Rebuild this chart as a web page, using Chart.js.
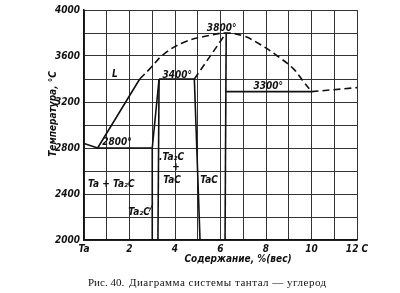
<!DOCTYPE html>
<html>
<head>
<meta charset="utf-8">
<script src="https://cdn.jsdelivr.net/npm/chart.js@4/dist/chart.umd.min.js"></script>
<style>
  html, body { margin: 0; padding: 0; background: #fff; }
  #wrap { width: 400px; height: 293px; }
</style>
</head>
<body>
<div id="wrap"><canvas id="chart" width="400" height="293"></canvas></div>
<script>
// tick labels
const xTickLabels = { 0: 'Ta', 2: '2', 4: '4', 6: '6', 8: '8', 10: '10', 12: '12 C' };
const yTickLabels = [2000, 2400, 2800, 3200, 3600, 4000];

// phase lines, [carbon %, temperature]
const liquidusLeft = [[0, 2840], [0.6, 2800], [2.45, 3400]];
const liquidusDashed = [[2.45, 3400], [2.9, 3490], [3.5, 3615], [4.4, 3720], [5.5, 3778], [6.25, 3800], [7.0, 3775], [7.75, 3700], [8.5, 3600], [9.2, 3490], [9.6, 3390], [10, 3290]];
const tacLiquidus = [[4.85, 3400], [6.25, 3800]];
const rightDashed = [[10, 3290], [12, 3325]];
const eutectic2800 = [[0.6, 2800], [3.0, 2800]];
const peritectic3400 = [[3.3, 3400], [4.85, 3400]];
const eutectic3300 = [[6.25, 3290], [10, 3290]];
const ta2cLeft = [[3.0, 2000], [3.0, 2800], [3.3, 3400]];
const ta2cRight = [[3.3, 3400], [3.25, 2000]];
const tacLeft = [[4.85, 3400], [5.1, 2000]];
const tacRight = [[6.25, 3800], [6.2, 2000]];
const ta2cPointer = [[2.86, 2247], [3.03, 2315]];

// text in the field: [text, x, y]
const fieldLabels = [
  ['L', 1.36, 3440],
  ['2800°', 1.45, 2845],
  ['3400°', 4.1, 3432],
  ['3800°', 6.05, 3840],
  ['3300°', 8.1, 3338],
  ['Ta + Ta₂C', 1.2, 2485],
  ['.Ta₂C', 3.85, 2720],
  ['+', 4.05, 2632],
  ['TaC', 3.87, 2522],
  ['TaC', 5.5, 2522],
  ['Ta₂C', 2.42, 2238]
];

const yTitle = 'Температура, °С';
const xTitle = 'Содержание, %(вес)';
const caption = 'Рис. 40.';
const captionRest = 'Диаграмма системы тантал — углерод';

const labelFont = "italic bold 10px 'Liberation Sans Narrow', 'DejaVu Sans Condensed', sans-serif";

function pts(arr) {
  return arr.map((p) => ({ x: p[0], y: p[1] }));
}

function line(arr, dashed, tension) {
  return {
    data: pts(arr),
    showLine: true,
    borderColor: '#111',
    borderWidth: 1.6,
    borderDash: dashed ? [7, 4] : [],
    pointRadius: 0,
    tension: tension || 0,
    fill: false,
  };
}

const textPlugin = {
  id: 'texts',
  afterDatasetsDraw(chart) {
    const ctx = chart.ctx;
    const xs = chart.scales.x;
    const ys = chart.scales.y;
    ctx.save();
    ctx.fillStyle = '#111';
    ctx.font = labelFont;
    ctx.textAlign = 'center';
    ctx.textBaseline = 'middle';
    fieldLabels.forEach((l) => {
      ctx.fillText(l[0], xs.getPixelForValue(l[1]), ys.getPixelForValue(l[2]));
    });

    // axis titles
    ctx.save();
    ctx.translate(53, 114);
    ctx.rotate(-Math.PI / 2);
    ctx.fillText(yTitle, 0, 0);
    ctx.restore();
    ctx.fillText(xTitle, 238, 259);

    // caption
    ctx.font = "11px 'Liberation Serif', serif";
    ctx.textAlign = 'left';
    ctx.fillText(caption, 88, 283);
    const w = ctx.measureText(caption + ' ').width;
    ctx.letterSpacing = '0.5px';
    ctx.fillText(captionRest, 88 + w + 2, 283);
    ctx.restore();
  },
};

const datasets = [
  line(liquidusLeft),
  line(liquidusDashed, true, 0.4),
  line(tacLiquidus, true),
  line(rightDashed, true),
  line(eutectic2800),
  line(peritectic3400),
  line(eutectic3300),
  line(ta2cLeft),
  line(ta2cRight),
  line(tacLeft),
  line(tacRight),
  Object.assign(line(ta2cPointer), { borderWidth: 1 }),
];

new Chart(document.getElementById('chart'), {
  type: 'scatter',
  data: { datasets: datasets },
  options: {
    responsive: false,
    animation: false,
    layout: { padding: { top: 5, right: 43, left: 0, bottom: 0 } },
    plugins: {
      legend: { display: false },
      tooltip: { enabled: false },
    },
    scales: {
      x: {
        type: 'linear',
        min: 0,
        max: 12,
        afterFit: (s) => { s.height = 53; },
        grid: { color: '#333', lineWidth: 1, drawTicks: false },
        border: { color: '#111', width: 1.5 },
        ticks: {
          stepSize: 1,
          padding: 3,
          autoSkip: false,
          maxRotation: 0,
          color: '#111',
          font: { family: "'Liberation Sans Narrow', 'DejaVu Sans Condensed', sans-serif", size: 10, style: 'italic', weight: 'bold' },
          callback: (v) => (xTickLabels[v] !== undefined ? xTickLabels[v] : ''),
        },
      },
      y: {
        min: 2000,
        max: 4000,
        afterFit: (s) => { s.width = 84; },
        grid: { color: '#333', lineWidth: 1, drawTicks: false },
        border: { color: '#111', width: 1.5 },
        ticks: {
          stepSize: 200,
          padding: 4,
          autoSkip: false,
          color: '#111',
          font: { family: "'Liberation Sans Narrow', 'DejaVu Sans Condensed', sans-serif", size: 10, style: 'italic', weight: 'bold' },
          callback: (v) => (yTickLabels.includes(v) ? String(v) : ''),
        },
      },
    },
  },
  plugins: [textPlugin],
});
</script>
</body>
</html>
